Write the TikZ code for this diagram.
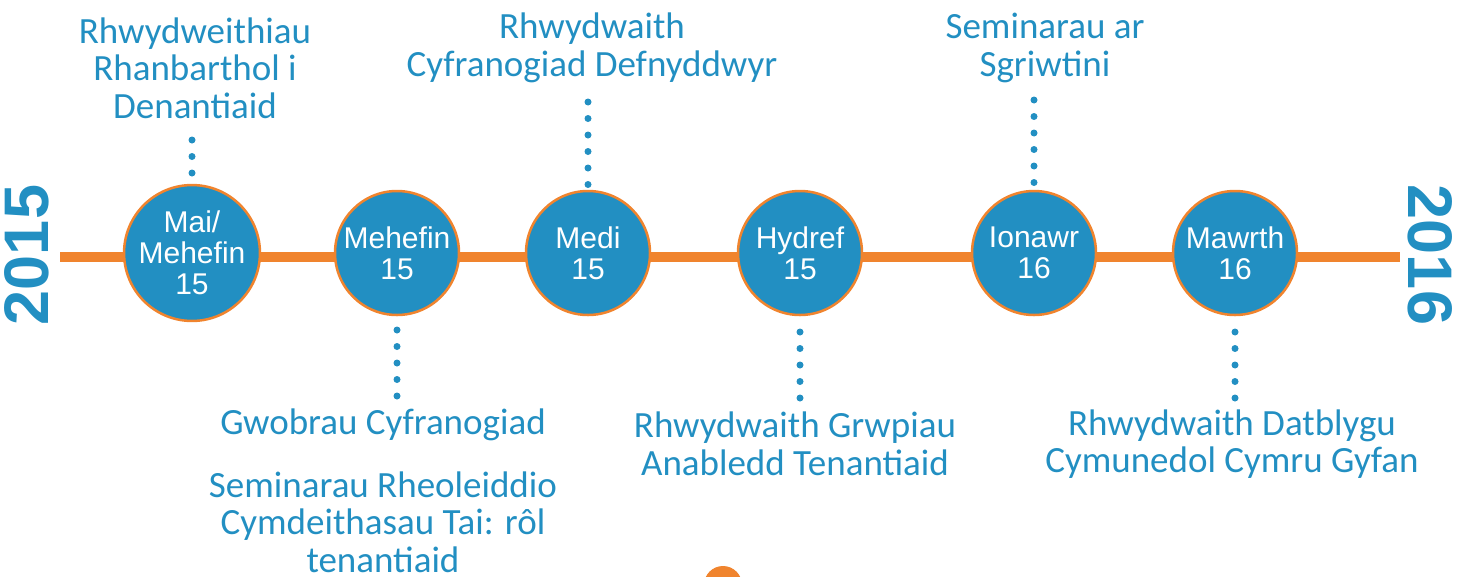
\documentclass[tikz,border=0pt]{standalone}
\usepackage{fontspec}
\setmainfont{Carlito}
\newfontfamily\circfont{Liberation Sans}
\definecolor{tlblue}{RGB}{34,143,194}
\definecolor{tlorange}{RGB}{240,132,46}
\begin{document}
\begin{tikzpicture}[x=1pt,y=-1pt,
  month/.style={circle,minimum size=124pt,inner sep=0pt,fill=tlblue,draw=tlorange,line width=2.5pt,text=white,align=center,font=\circfont\fontsize{30}{31}\selectfont},
  evlabel/.style={text=tlblue,align=center,font=\fontsize{37}{37.5}\selectfont,inner sep=0pt},
  yearlabel/.style={text=tlblue,font=\circfont\bfseries\fontsize{63}{63}\selectfont,inner sep=0pt},
  dotline/.style={tlblue,line width=7pt,line cap=round,dash pattern=on 0pt off 16.5pt},
  axisline/.style={tlorange,line width=10pt}]
\useasboundingbox (0,0) rectangle (1466,576);
\coordinate (ls) at (60,257);
\coordinate (le) at (1400,257);
\draw[axisline] (ls) -- (le);
\node[month] (c1) at (192,253) {Mai/\\Mehefin\\15};
\node[month] (c2) at (397,253) {Mehefin\\15};
\node[month] (c3) at (588,253) {Medi\\15};
\node[month] (c4) at (800,253) {Hydref\\15};
\node[month] (c5) at (1034,253) {Ionawr\\16};
\node[month] (c6) at (1235,253) {Mawrth\\16};
\coordinate (d1) at (192,140);
\coordinate (d3) at (588,102);
\coordinate (d5) at (1034,100);
\coordinate (d2) at (397,396);
\coordinate (d4) at (800,398);
\coordinate (d6) at (1235,398);
\draw[dotline] (d1) -- (c1.north);
\draw[dotline] (d3) -- (c3.north);
\draw[dotline] (d5) -- (c5.north);
\draw[dotline] (d2) -- (c2.south);
\draw[dotline] (d4) -- (c4.south);
\draw[dotline] (d6) -- (c6.south);
\node[evlabel] (t1) at (195,68) {Rhwydweithiau\\Rhanbarthol i\\Denantiaid};
\node[evlabel] (t3) at (592,48) {Rhwydwaith\\Cyfranogiad Defnyddwyr};
\node[evlabel] (t5) at (1045,48) {Seminarau ar\\Sgriwtini};
\node[evlabel] (t2) at (383,425) {Gwobrau Cyfranogiad};
\node[evlabel] (t2b) at (383,522) {Seminarau Rheoleiddio\\Cymdeithasau Tai: rôl\\tenantiaid};
\node[evlabel] (t4) at (795,444) {Rhwydwaith Grwpiau\\Anabledd Tenantiaid};
\node[evlabel] (t6) at (1232,444) {Rhwydwaith Datblygu\\Cymunedol Cymru Gyfan};
\node[yearlabel,rotate=90] (y1) at (27,255) {2015};
\node[yearlabel,rotate=-90] (y2) at (1430,255) {2016};
\fill[tlorange] (723,585) circle (19);
\end{tikzpicture}
\end{document}
